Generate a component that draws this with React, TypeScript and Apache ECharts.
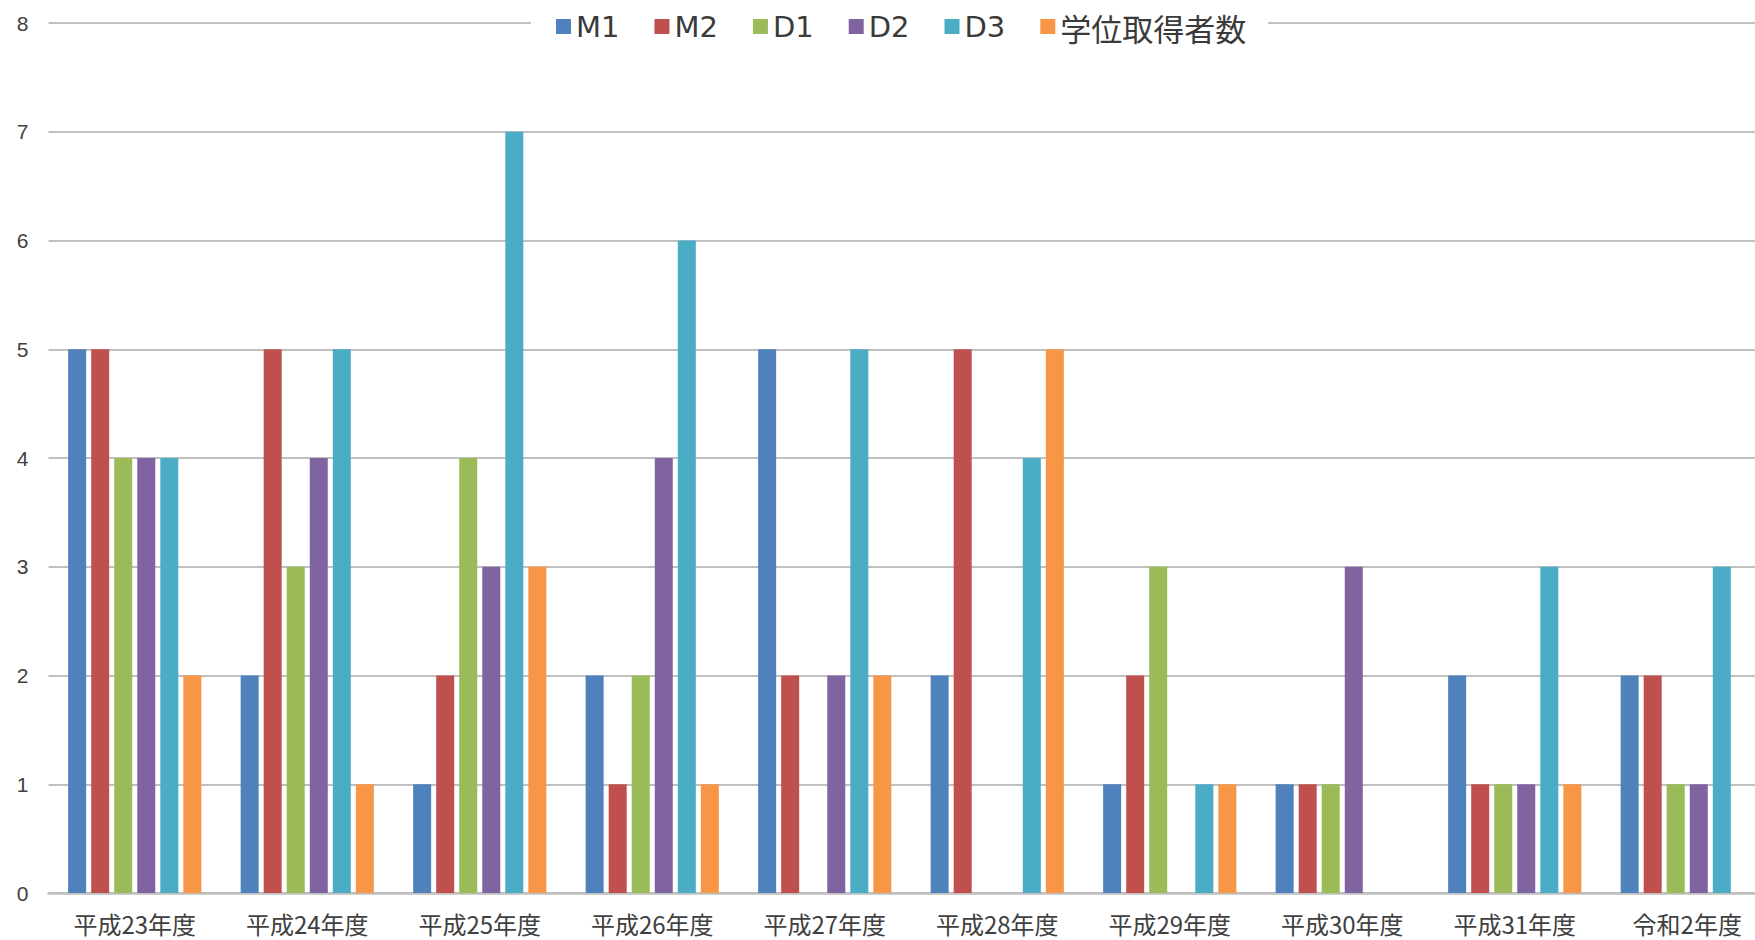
import React, { useEffect, useRef } from "react";
import * as echarts from "echarts";

const categories = ["平成23年度", "平成24年度", "平成25年度", "平成26年度", "平成27年度", "平成28年度", "平成29年度", "平成30年度", "平成31年度", "令和2年度"];
const m1 = [5, 2, 1, 2, 5, 2, 1, 1, 2, 2];
const m2 = [5, 5, 2, 1, 2, 5, 2, 1, 1, 2];
const d1 = [4, 3, 4, 2, 0, 0, 3, 1, 1, 1];
const d2 = [4, 4, 3, 4, 2, 0, 0, 3, 1, 1];
const d3 = [4, 5, 7, 6, 5, 4, 1, 0, 3, 3];
const degrees = [2, 1, 3, 1, 2, 5, 1, 0, 1, 0];
const seriesNames = ["M1", "M2", "D1", "D2", "D3", "学位取得者数"];
const colors = ["#4F81BD", "#C0504D", "#9BBB59", "#8064A2", "#4BACC6", "#F79646"];

export default function App() {
  const ref = useRef<HTMLDivElement>(null);
  useEffect(() => {
    document.body.style.margin = "0";
    document.body.style.overflow = "hidden";
    document.documentElement.style.overflow = "hidden";
    const chart = echarts.init(ref.current!, null, { renderer: "svg" });
    const values = [m1, m2, d1, d2, d3, degrees];
    chart.setOption({
      animation: false,
      color: colors,
      textStyle: { fontFamily: "'Liberation Sans', 'Noto Sans CJK JP', sans-serif" },
      legend: {
        left: 531,
        top: 10,
        padding: [2, 22, 2, 25],
        backgroundColor: "#ffffff",
        itemWidth: 15,
        itemHeight: 15,
        itemGap: 35,
        icon: "rect",
        formatter: (name: string) => (/^[A-Z0-9]+$/.test(name) ? `{l|${name}}` : `{c|${name}}`),
        textStyle: {
          color: "#404040",
          padding: [2, 0, 0, 0],
          rich: {
            l: { fontSize: 29, color: "#3a3a3a", fontFamily: "'DejaVu Sans', sans-serif" },
            c: { fontSize: 31, color: "#3a3a3a", fontFamily: "'Noto Sans CJK JP', sans-serif" },
          },
        },
        data: seriesNames,
      },
      grid: { left: 48.5, top: 23, bottom: 47, right: 1.5, containLabel: false },
      xAxis: {
        type: "category",
        data: categories,
        axisTick: { show: false },
        axisLine: { lineStyle: { color: "#bfbfbf", width: 2.5 } },
        axisLabel: { fontSize: 24, color: "#404040", margin: 18, fontFamily: "'Noto Sans CJK JP', sans-serif" },
      },
      yAxis: {
        type: "value",
        min: 0,
        max: 8,
        interval: 1,
        axisLine: { show: false },
        axisTick: { show: false },
        axisLabel: { fontSize: 21, color: "#404040", margin: 20 },
        splitLine: { lineStyle: { color: "#c0c0c0", width: 2 } },
      },
      series: seriesNames.map((name, i) => ({
        name,
        type: "bar",
        data: values[i],
        barWidth: 18,
        barGap: "28%",
        itemStyle: { color: colors[i] },
      })),
    });
    return () => chart.dispose();
  }, []);
  return <div ref={ref} style={{ position: "absolute", left: 0, top: 0, width: 1775, height: 940 }} />;
}
